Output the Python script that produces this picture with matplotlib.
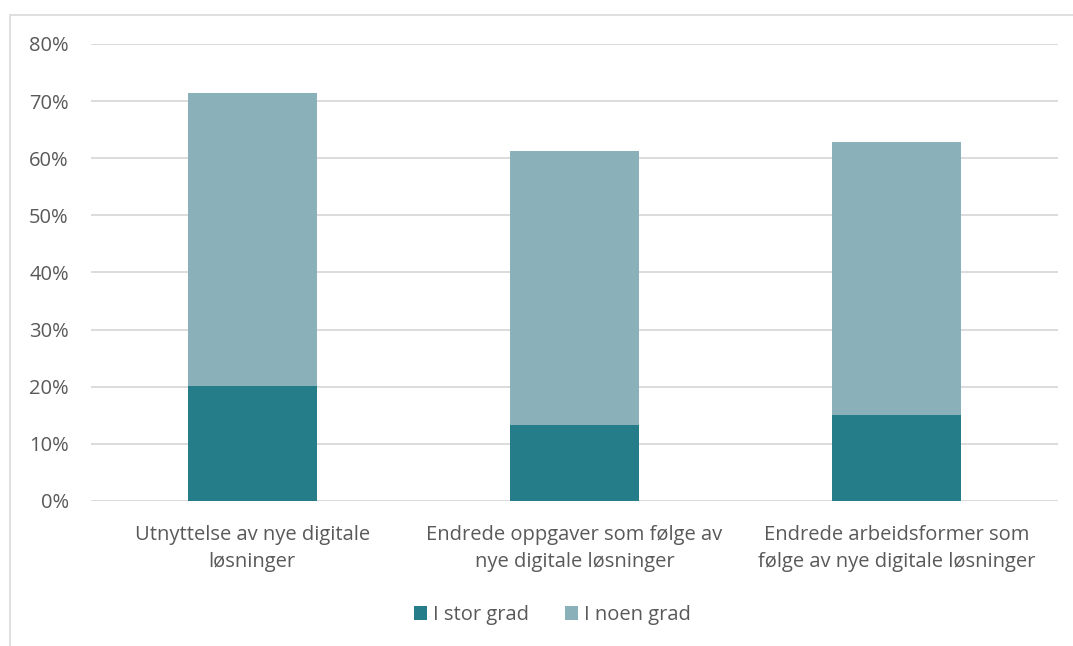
import matplotlib
matplotlib.use("Agg")
import matplotlib.pyplot as plt
from matplotlib.patches import Rectangle
from matplotlib.ticker import PercentFormatter

categories = [
    "Utnyttelse av nye digitale\nløsninger",
    "Endrede oppgaver som følge av\nnye digitale løsninger",
    "Endrede arbeidsformer som\nfølge av nye digitale løsninger",
]
stor_grad = [20.2, 13.3, 15.1]
noen_grad = [51.3, 48.0, 47.8]
series_names = ["I stor grad", "I noen grad"]

plt.rcParams["font.family"] = ["Open Sans", "DejaVu Sans"]
text_color = "#595959"

fig = plt.figure(figsize=(10.73, 6.46), dpi=100)
ax = fig.add_axes([0.0848, 0.2245, 0.9012, 0.7074])

x = range(len(categories))
ax.bar(x, stor_grad, width=0.4, color="#267D8A", label=series_names[0], zorder=3)
ax.bar(x, noen_grad, width=0.4, bottom=stor_grad, color="#8AB0BA",
       label=series_names[1], zorder=3)

ax.set_ylim(0, 80)
ax.set_xlim(-0.5, 2.5)
ax.set_yticks(range(0, 81, 10))
ax.yaxis.set_major_formatter(PercentFormatter(decimals=0))
ax.grid(axis="y", color="#D9D9D9", linewidth=1.3, zorder=0)
for s in ax.spines.values():
    s.set_visible(False)
ax.tick_params(axis="both", length=0, labelsize=14.5, colors=text_color)
ax.tick_params(axis="y", pad=16)
ax.set_xticks(list(x))
ax.set_xticklabels(categories, fontsize=14.5, color=text_color, linespacing=1.5)
ax.tick_params(axis="x", pad=17)

leg = fig.legend(loc="center", bbox_to_anchor=(0.515, 0.048), ncol=2, frameon=False,
                 fontsize=14.5, handlelength=0.65, handleheight=0.65,
                 handletextpad=0.3, columnspacing=1.8)
for t in leg.get_texts():
    t.set_color(text_color)

# outer chart frame
fig.patches.append(Rectangle((10 / 1073, -0.01), 1.2, 1 - 15 / 646 + 0.01,
                             transform=fig.transFigure, fill=False,
                             edgecolor="#D9D9D9", linewidth=1.2))

fig.savefig("out.png", dpi=100)
